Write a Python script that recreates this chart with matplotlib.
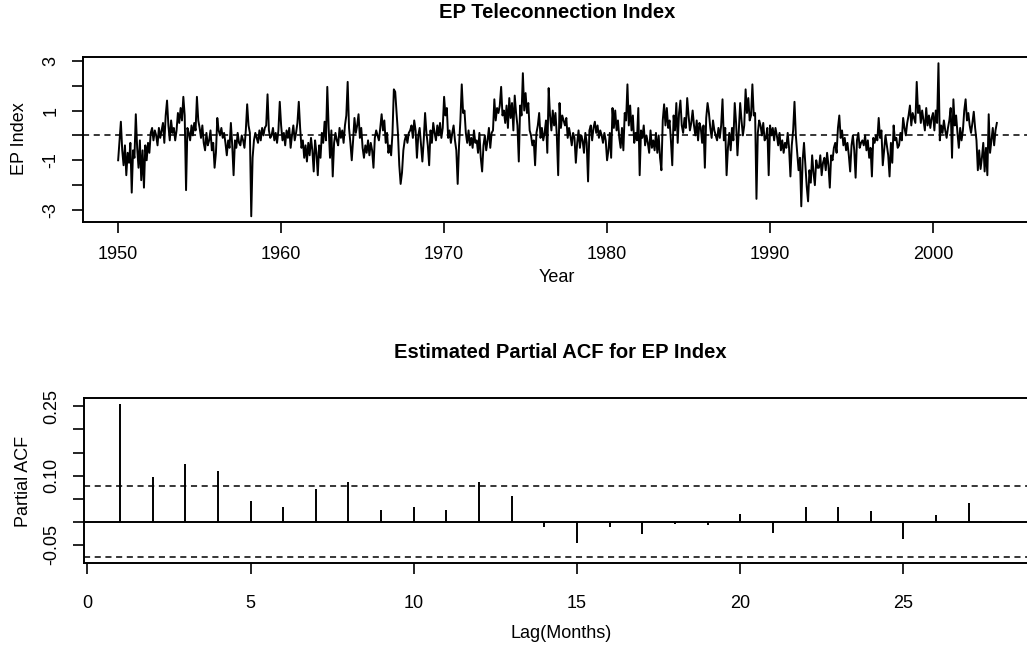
import numpy as np
import matplotlib
matplotlib.use("Agg")
import matplotlib.pyplot as plt

plt.rcParams["font.family"] = ["Liberation Sans", "DejaVu Sans"]

# monthly EP teleconnection index, Jan 1950 .. Dec 2003 (one row per year)
ep_index = [
    -1.0, -0.2, 0.55, -0.6, -1.2, -0.4, -1.6, -0.7, -1.1, -0.3, -2.3, -0.6,   # 1950
    -0.9, 0.85, -0.5, -1.3, -0.2, -1.8, -0.6, -2.1, -0.4, -1.0, -0.3, -0.7,   # 1951
    0.1, 0.3, -0.2, 0.2, 0.0, -0.4, 0.3, -0.1, 0.2, 0.5, -0.3, 0.8,           # 1952
    1.4, 0.4, -0.2, 0.6, 0.1, 0.3, -0.2, 0.2, 0.9, 0.5, 1.1, 0.6,             # 1953
    1.55, 0.8, -2.2, 0.3, 0.1, -0.2, 0.4, 0.0, 0.5, 0.2, 1.55, 0.6,           # 1954
    0.3, -0.1, 0.4, -0.3, -0.6, 0.1, -0.4, -0.2, 0.2, -0.6, -0.3, -1.3,       # 1955
    -0.7, 0.7, 0.2, 0.0, 0.3, -0.1, 0.1, -0.3, -0.8, -0.2, -0.5, 0.5,         # 1956
    -0.4, -1.6, -0.2, -0.5, 0.1, -0.3, -0.4, 0.0, -0.2, -0.5, 0.2, 1.25,      # 1957
    0.4, 0.1, -3.25, -0.9, -0.2, 0.1, -0.1, -0.3, 0.2, -0.2, 0.3, 0.0,        # 1958
    0.3, 0.4, 1.65, 0.2, -0.1, 0.0, 0.3, -0.2, 0.1, -0.3, 0.2, 1.35,          # 1959
    0.4, -0.2, 0.1, -0.4, 0.2, -0.1, 0.3, -0.5, 0.0, 0.4, -0.2, 0.1,          # 1960
    0.5, 1.35, 0.3, -0.5, -0.2, -0.9, -0.4, -1.05, -0.3, -0.8, -0.1, -0.6,    # 1961
    -1.45, -0.2, -0.7, -1.6, -0.4, -0.9, 0.1, -0.3, 0.55, -0.2, 1.95, 0.3,    # 1962
    -0.9, 0.2, -1.65, -0.3, 0.1, -0.2, -0.4, 0.3, -0.1, 0.2, -0.3, 0.4,       # 1963
    0.8, 2.15, 0.3, -0.3, -1.0, -0.2, 0.7, 0.1, 0.4, 0.85, -0.1, 0.3,         # 1964
    -0.5, -0.9, -0.4, -0.7, -0.2, -0.8, -0.3, -0.6, -1.3, -0.1, 0.2, 0.0,     # 1965
    -0.2, 0.3, 0.85, 0.2, 0.6, -0.3, 0.1, -0.7, -0.4, -0.8, 0.1, 1.85,        # 1966
    1.75, 0.9, 0.1, -1.2, -1.95, -1.5, -0.6, -0.2, 0.0, -0.3, 0.1, 0.2,       # 1967
    0.4, -0.1, 0.6, 0.2, -0.9, 0.0, 0.3, -0.4, -1.05, -0.2, 0.9, 0.1,         # 1968
    -0.4, -1.2, 0.2, -0.3, 0.5, 0.1, -0.2, 0.4, 0.0, 0.5, -0.1, 0.3,          # 1969
    1.55, 0.8, 1.1, -0.1, 0.2, -0.3, 0.1, 0.4, -0.2, -0.6, -1.95, -0.4,       # 1970
    0.6, 2.05, 0.9, 1.0, 0.1, -0.3, 0.2, -0.4, -0.1, -0.5, 0.2, -0.3,         # 1971
    -0.2, -0.7, 0.1, -0.9, -1.45, -0.4, 0.0, -0.6, -0.2, 0.3, -0.5, 0.1,      # 1972
    0.2, 1.45, 0.6, 1.1, 0.9, 1.2, 1.95, 0.8, 1.0, 0.5, 1.2, 0.3,             # 1973
    1.5, 0.7, 1.3, 0.2, 1.6, 0.9, 0.4, -1.05, 1.2, 0.8, 2.5, 1.0,             # 1974
    1.7, 0.9, 1.3, 0.2, 0.0, -0.4, -0.2, -1.2, 0.1, 0.4, 0.9, -0.1,           # 1975
    0.3, -0.2, 0.1, 0.6, -0.7, 1.9, 0.8, 0.2, 1.0, 0.4, 0.9, 0.0,             # 1976
    -1.6, 1.3, 0.3, 0.8, 0.6, 0.4, 0.7, -0.1, 0.3, 0.0, -0.4, 0.1,            # 1977
    -0.1, -1.1, -0.3, 0.2, -0.5, 0.0, -0.2, -0.7, 0.1, -0.3, -1.85, 0.2,      # 1978
    0.4, -0.2, 0.3, 0.55, 0.1, 0.4, -0.1, 0.2, 0.0, -0.3, 0.1, -0.2,          # 1979
    -1.0, -0.6, 0.1, -0.9, 1.1, 0.3, 1.0, 0.2, 0.6, -0.1, -0.5, 0.3,          # 1980
    -0.6, 0.9, 0.6, 2.05, 0.4, 1.2, 0.2, 0.8, -0.3, 0.1, -0.2, 1.1,           # 1981
    -1.6, 0.2, -0.1, 0.4, -0.4, 0.0, -0.3, -0.7, 0.2, -0.5, -0.2, -0.6,       # 1982
    0.1, -0.7, 0.0, -0.9, -1.4, 0.6, 1.25, 0.4, 1.1, 0.3, 0.6, -0.2,          # 1983
    -1.2, 0.8, 0.2, 1.3, -0.3, 0.9, 1.4, 0.4, 0.1, 0.7, 0.3, 1.5,             # 1984
    0.8, 0.2, 0.5, 1.0, 0.4, 0.0, 0.6, -0.2, 0.5, 0.3, -0.3, 0.4,             # 1985
    -1.3, 0.7, 1.3, 0.9, 0.3, -0.1, 0.6, 0.2, 0.0, -0.2, 0.3, -0.1,           # 1986
    0.4, 1.45, -0.2, 0.3, -1.6, -0.5, 0.1, -0.6, 0.3, -0.2, 1.3, 0.5,         # 1987
    -0.8, 0.2, 1.3, 0.6, 0.0, 0.4, 1.85, 0.9, 1.5, 0.6, 0.8, 2.05,            # 1988
    0.8, 0.9, -2.55, 0.1, 0.6, 0.4, 0.0, 0.5, -0.2, -0.1, 0.3, -1.6,          # 1989
    0.4, 0.0, 0.3, -0.2, 0.3, 0.0, -0.4, 0.1, -0.6, -0.2, -0.7, -0.3,         # 1990
    -0.5, 0.1, -0.5, -1.65, -0.4, 0.2, 1.35, 0.0, -0.7, -1.4, -0.9, -2.85,    # 1991
    -1.0, -0.3, -1.2, -2.05, -2.65, -1.4, -1.9, -0.8, -1.5, -2.0, -1.0, -1.3, # 1992
    -1.3, -0.8, -1.6, -1.1, -0.9, -1.4, -0.7, -1.2, -2.1, -0.8, -1.0, -0.5,   # 1993
    -0.3, -0.7, 0.3, 0.8, -0.1, 0.2, -0.4, -0.1, -0.6, -0.3, -0.8, -1.45,     # 1994
    -0.4, 0.0, -0.6, -1.7, -0.2, 0.1, -0.5, -0.3, -0.2, -0.4, 0.0, -0.6,      # 1995
    -0.2, -0.9, -0.5, -1.65, -0.1, -0.3, 0.0, -0.2, 0.7, -0.1, 0.2, -1.2,     # 1996
    -0.6, 0.0, -0.4, -0.8, -1.65, -0.3, -1.1, 0.4, -0.2, -0.1, -0.5, -0.4,    # 1997
    0.1, -0.2, 0.7, 0.3, 0.0, 0.5, 0.8, 1.2, 0.4, 0.9, 0.7, 0.5,              # 1998
    2.15, 0.9, 1.2, 0.5, 1.0, 0.6, 0.2, 1.1, 0.4, 0.8, 0.3, 0.7,              # 1999
    0.9, 0.2, 1.0, 0.5, 2.9, -0.2, 0.4, 0.1, 0.6, 0.2, -0.1, 0.3,             # 2000
    0.6, 1.1, -0.9, 1.45, 0.4, 0.8, 0.1, -0.5, 0.3, -0.2, 0.2, 1.0,           # 2001
    1.45, 0.6, 0.9, 0.4, 0.1, 0.5, 0.95, 0.3, -0.2, -1.4, -0.6, -1.35,        # 2002
    -0.9, -0.3, -1.45, -0.5, -1.6, 0.85, -0.7, -0.2, 0.3, -0.4, 0.2, 0.5,     # 2003
]
start_year = 1950
year_ticks = [1950, 1960, 1970, 1980, 1990, 2000]
ep_yticks = [-3, -2, -1, 0, 1, 2, 3]
ep_yticklabels = ["-3", "", "-1", "", "1", "", "3"]

# sample partial autocorrelations, lags 1..28
pacf_lags = list(range(1, 29))
pacf_vals = [0.255, 0.096, 0.125, 0.111, 0.046, 0.032, 0.071, 0.087,
             0.026, 0.032, 0.025, 0.087, 0.056, -0.011, -0.045, -0.012,
             -0.027, -0.005, -0.006, 0.017, -0.025, 0.032, 0.032, 0.024,
             -0.036, 0.014, 0.040, 0.002]
pacf_bound = 0.077
pacf_yticks = [-0.05, 0.0, 0.05, 0.10, 0.15, 0.20, 0.25]
pacf_yticklabels = ["-0.05", "", "", "0.10", "", "", "0.25"]
lag_ticks = [0, 5, 10, 15, 20, 25]

W, H = 1027, 648
fig = plt.figure(figsize=(W / 100, H / 100), dpi=100)


def px_axes(left, top, right, bottom):
    return fig.add_axes([left / W, 1 - bottom / H, (right - left) / W,
                         (bottom - top) / H])


def style(ax, xpad=9):
    for s in ax.spines.values():
        s.set_linewidth(1.4)
    ax.tick_params(direction="out", length=8, width=1.2, labelsize=13,
                   pad=9, colors="black")
    ax.tick_params(axis="x", pad=xpad)


# ---- top: the monthly index as a time series -------------------------------
t = start_year + np.arange(len(ep_index)) / 12.0
ax1 = px_axes(83, 57, 1032, 222)
ax1.plot(t, ep_index, color="black", lw=1.4)
ax1.axhline(0, color="black", lw=1.1, ls=(0, (4, 3)))
span = t[-1] - t[0]
ax1.set_xlim(t[0] - 0.04 * span, t[-1] + 0.04 * span)
ax1.set_ylim(-3.48, 3.15)
ax1.set_xticks(year_ticks)
ax1.set_yticks(ep_yticks)
ax1.set_yticklabels(ep_yticklabels, rotation=90, va="center")
style(ax1)

fig.text(557 / W, 1 - 12 / H, "EP Teleconnection Index", ha="center",
         va="center", fontsize=14.5, fontweight="bold")
fig.text(557 / W, 1 - 277 / H, "Year", ha="center", va="center", fontsize=13)
fig.text(19 / W, 1 - 139 / H, "EP Index", ha="center", va="center",
         fontsize=13, rotation=90)

# ---- bottom: partial autocorrelation with the +/- bounds -------------------
ax2 = px_axes(84, 398, 1036, 563)
ax2.vlines(pacf_lags, 0, pacf_vals, color="black", lw=1.4)
ax2.axhline(0, color="black", lw=1.4)
for b in (pacf_bound, -pacf_bound):
    ax2.axhline(b, color="black", lw=1.1, ls=(0, (4, 3)))
ax2.set_xlim(-0.1, 29.06)
ax2.set_ylim(-0.089, 0.268)
ax2.set_xticks(lag_ticks)
ax2.set_yticks(pacf_yticks)
ax2.set_yticklabels(pacf_yticklabels, rotation=90, va="center")
style(ax2, xpad=15)

fig.text(560 / W, 1 - 352 / H, "Estimated Partial ACF for EP Index",
         ha="center", va="center", fontsize=14.5, fontweight="bold")
fig.text(561 / W, 1 - 633 / H, "Lag(Months)", ha="center", va="center",
         fontsize=13)
fig.text(24 / W, 1 - 481 / H, "Partial ACF", ha="center", va="center",
         fontsize=13, rotation=90)

fig.savefig("out.png", dpi=100)
